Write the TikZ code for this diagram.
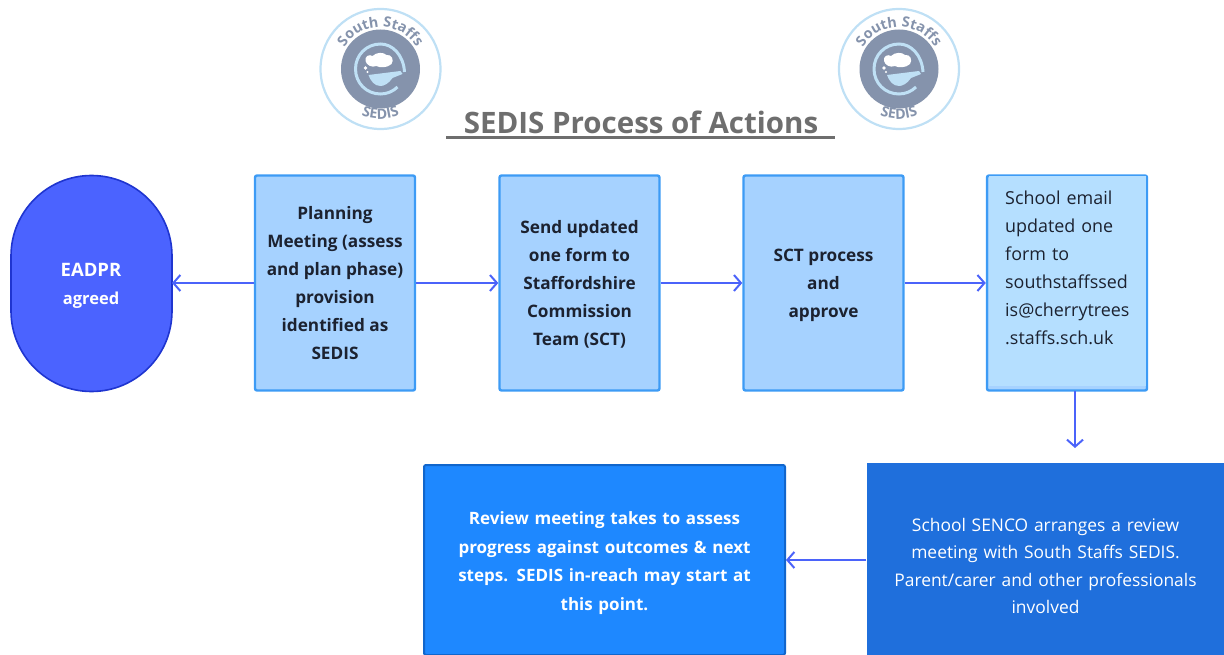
\documentclass[tikz,border=0pt]{standalone}
\usepackage{fontspec}
\setmainfont{Open Sans}
\usetikzlibrary{arrows.meta,decorations.text}
\definecolor{boxfill}{HTML}{A6D2FF}
\definecolor{boxline}{HTML}{3D9BF5}
\definecolor{mailfill}{HTML}{B5DFFF}
\definecolor{arrowc}{HTML}{4B63FA}
\definecolor{eadfill}{HTML}{4B63FF}
\definecolor{eadline}{HTML}{1F35D0}
\definecolor{sencofill}{HTML}{1F6FDC}
\definecolor{revfill}{HTML}{1E88FF}
\definecolor{revline}{HTML}{1166CC}
\definecolor{titlec}{HTML}{6E6E6E}
\definecolor{logogrey}{HTML}{8593AC}
\definecolor{logoblue}{HTML}{BFE0F5}
\definecolor{inktext}{HTML}{1C2230}
\tikzset{
  x=1pt,y=-1pt,
  processbox/.style={draw=boxline,fill=boxfill,line width=2.4pt,rounded corners=2pt,
    minimum width=160pt,minimum height=215pt,inner sep=0pt},
  boxtext/.style={align=center,text=inktext,inner sep=0pt,font=\bfseries\fontsize{17.2}{28}\selectfont},
  flow/.style={draw=arrowc,line width=2.2pt,-{Straight Barb[length=7pt,width=16pt,line width=2pt]}},
  whitebox/.style={align=center,text=white,inner sep=0pt},
  logotext/.style={decorate,decoration={text along path,text align=center,
    text={|\bfseries\fontsize{14.3}{15}\selectfont\color{logogrey}|#1}}},
}
\newcommand{\sedislogo}[2]{%
  \begin{scope}[shift={(#1,#2)}]
    \draw[logoblue,line width=2.2pt,fill=white] (0,0) circle[radius=60];
    \fill[logogrey] (0,0) circle[radius=39.5];
    \fill[logoblue] (-12,6) -- (20,2) -- (22,5) -- (12,9)
      .. controls (8,15) and (3,17) .. (0,17) .. controls (-6,17) and (-10,12) .. (-12,6) -- cycle;
    \draw[logoblue,line width=3pt] (24,3) .. controls (23,-14) and (12,-25) .. (0,-25)
      .. controls (-14,-25) and (-25,-14) .. (-25,0)
      .. controls (-25,14) and (-14,25) .. (0,25)
      .. controls (7,25) and (13,22) .. (17,18);
    \fill[white] (-15,-8) .. controls (-16,-13) and (-11,-15) .. (-8,-13)
      .. controls (-4,-17) and (3,-17) .. (6,-14) .. controls (11,-15) and (14,-9) .. (11,-5)
      .. controls (7,-1) and (-1,-1) .. (-4,-3) .. controls (-9,-1) and (-14,-4) .. (-15,-8) -- cycle;
    \fill[white] (-15,-1) circle[radius=1.8];
    \fill[white] (-13,3) circle[radius=1.2];
    \path[logotext={South Staffs}] (-38.4,-17.1) arc[start angle=-156,end angle=-24,radius=42];
    \path[logotext={SEDIS}] (-25,43.3) arc[start angle=120,end angle=60,radius=50];
  \end{scope}}
\begin{document}
\begin{tikzpicture}
\useasboundingbox (0,0) rectangle (1224,655);
\clip (0,0) rectangle (1224,655);
\sedislogo{380.5}{69}
\sedislogo{899}{69}
\node[font=\bfseries\fontsize{29.5}{34}\selectfont,text=titlec,inner sep=0pt] (title) at (641,122) {SEDIS Process of Actions};
\coordinate (ruleL) at (446,137.5);
\coordinate (ruleR) at (835,137.5);
\draw[titlec,line width=2.6pt] (ruleL) -- (ruleR);

\draw[eadline,fill=eadfill,line width=1.6pt] (11,256) arc[start angle=180,end angle=360,radius=80.5]
  -- (172,311) arc[start angle=0,end angle=180,radius=80.5] -- cycle;
\node[whitebox,font=\bfseries\fontsize{16.5}{28}\selectfont] (ead) at (91,286) {{\fontsize{18.5}{28}\selectfont EADPR}\\agreed};
\coordinate (eadE) at (172,283);

\node[processbox] (plan) at (335,283) {};
\node[boxtext] (plantext) at (335,283) {Planning\\Meeting (assess\\and plan phase)\\provision\\identified as\\SEDIS};
\node[processbox] (send) at (579.5,283) {};
\node[boxtext] (sendtext) at (579.5,284) {Send updated\\one form to\\Staffordshire\\Commission\\Team (SCT)};
\node[processbox] (sct) at (823.5,283) {};
\node[boxtext] (scttext) at (823.5,285) {SCT process\\and\\approve};
\node[processbox] (mail) at (1067,283) {};
\fill[mailfill] (989,176) rectangle (1146,386);
\node[anchor=north west,inner sep=0pt,text width=135pt,align=left,text=inktext,
  font=\fontsize{17.9}{28}\selectfont] (mailtext) at (1005,191)
  {School email\\updated one\\form to\\southstaffssed\\is@cherrytrees\\.staffs.sch.uk};

\draw[flow] (plan.west) -- (eadE);
\draw[flow] (plan.east) -- (send.west);
\draw[flow] (send.east) -- (sct.west);
\draw[flow] (sct.east) -- (mail.west);

\node[fill=sencofill,minimum width=358pt,minimum height=192pt,inner sep=0pt] (senco) at (1045.5,559) {};
\node[whitebox,text width=320pt,font=\fontsize{17.4}{27.5}\selectfont] (sencotext) at (1045.5,566)
  {School SENCO arranges a review\\meeting with South Staffs SEDIS.\\Parent/carer and other professionals\\involved};
\node[draw=revline,fill=revfill,line width=2pt,rounded corners=2pt,minimum width=361pt,minimum height=190pt,inner sep=0pt] (review) at (604.5,560) {};
\node[whitebox,text width=330pt,font=\bfseries\fontsize{17}{28.4}\selectfont] (reviewtext) at (604.5,563)
  {Review meeting takes to assess\\progress against outcomes \& next\\steps. SEDIS in-reach may start at\\this point.};
\coordinate (mailOut) at (1075,391);
\coordinate (mailEnd) at (1075,448);
\draw[flow] (mailOut) -- (mailEnd);
\draw[flow] (senco.west |- review.east) -- (review.east);
\end{tikzpicture}
\end{document}
